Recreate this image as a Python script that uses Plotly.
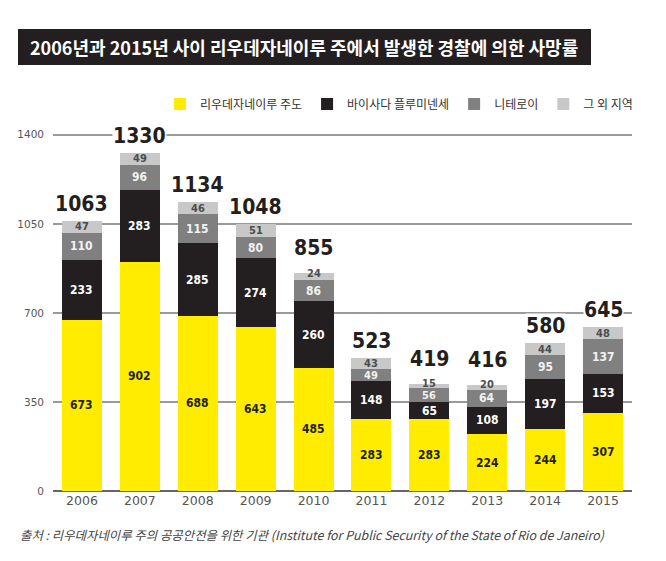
import plotly.graph_objects as go

years = ["2006", "2007", "2008", "2009", "2010", "2011", "2012", "2013", "2014", "2015"]
capital = [673, 902, 688, 643, 485, 283, 283, 224, 244, 307]
baixada = [233, 283, 285, 274, 260, 148, 65, 108, 197, 153]
niteroi = [110, 96, 115, 80, 86, 49, 56, 64, 95, 137]
others = [47, 49, 46, 51, 24, 43, 15, 20, 44, 48]
totals = [1063, 1330, 1134, 1048, 855, 523, 419, 416, 580, 645]

series_names = ["리우데자네이루 주도", "바이사다 플루미넨세", "니테로이", "그 외 지역"]
series_vals = [capital, baixada, niteroi, others]
colors = ["#FFEC00", "#231F20", "#808080", "#C8C8C8"]
label_colors = ["#231F20", "#FFFFFF", "#F2F2F2", "#4D4D4D"]
y_ticks = [0, 350, 700, 1050, 1400]

NUM_FONT = "DejaVu Sans Condensed, Liberation Sans Narrow, sans-serif"
KR_FONT = "Noto Sans CJK KR, sans-serif"

fig = go.Figure()
for name, vals, c in zip(series_names, series_vals, colors):
    fig.add_trace(go.Bar(x=years, y=vals, name=name, marker=dict(color=c, line=dict(width=0)),
                         hoverinfo="skip"))

annotations = []
# segment labels
for i, yr in enumerate(years):
    base = 0
    for k, (vals, lc) in enumerate(zip(series_vals, label_colors)):
        v = vals[i]
        shift = 3 if (k == 3 and v < 30) else 0
        size = 12 if v >= 60 else 11
        annotations.append(dict(x=i, y=base + v / 2, text=f"<b>{v}</b>", showarrow=False,
                                xref="x", yref="y", yshift=shift, borderpad=0,
                                font=dict(family=NUM_FONT, size=size, color=lc)))
        base += v
    tshift = 12 if others[i] < 30 else 4
    annotations.append(dict(x=i, y=totals[i], text=f"<b>{totals[i]}</b>", showarrow=False,
                            xref="x", yref="y", yanchor="bottom", yshift=tshift,
                            bgcolor="white", borderpad=0,
                            font=dict(family=NUM_FONT, size=21, color="#231F20")))

# plot geometry in px for paper conversions
L, R, T, B = 53, 34, 120, 70
W, H = 666, 561
pw, ph = W - L - R, H - T - B
def px2x(px):
    return (px - L) / pw
def py2y(py):
    return (H - B - py) / ph

annotations.append(dict(x=px2x(28), y=py2y(47), xref="paper", yref="paper", xanchor="left",
                        yanchor="middle", showarrow=False,
                        text="<b>2006년과 2015년 사이 리우데자네이루 주에서 발생한 경찰에 의한 사망률</b>",
                        font=dict(family=KR_FONT, size=18, color="white")))
annotations.append(dict(x=px2x(18), y=py2y(535), xref="paper", yref="paper", xanchor="left",
                        yanchor="middle", showarrow=False,
                        text="<i>출처 : 리우데자네이루 주의 공공안전을 위한 기관 (Institute for Public Security of the State of Rio de Janeiro)</i>",
                        font=dict(family=KR_FONT, size=12.4, color="#444444")))

shapes = [dict(type="rect", xref="paper", yref="paper", x0=px2x(18), x1=px2x(591),
               y0=py2y(65), y1=py2y(29), fillcolor="#231F20", line=dict(width=0), layer="below")]

fig.update_layout(
    width=W, height=H,
    margin=dict(l=L, r=R, t=T, b=B, pad=0),
    paper_bgcolor="white", plot_bgcolor="white",
    barmode="stack", bargap=0.31,
    showlegend=True,
    legend=dict(orientation="h", x=px2x(638), xanchor="right", y=py2y(104), yanchor="middle",
                font=dict(family=KR_FONT, size=12, color="#333333"),
                itemclick=False, itemsizing="constant", traceorder="normal",
                tracegroupgap=0, itemwidth=30, bgcolor="rgba(0,0,0,0)"),
    annotations=annotations,
    shapes=shapes,
    xaxis=dict(type="category", range=[-0.5, 9.5], showgrid=False, showline=False,
               ticks="", tickfont=dict(family="DejaVu Sans, sans-serif", size=12.5, color="#555555"),
               fixedrange=True),
    yaxis=dict(range=[0, 1400 * ph / 356.2], tickvals=y_ticks, ticktext=[str(t) for t in y_ticks],
               showgrid=True, gridcolor="#9A9A9A", gridwidth=1.5,
               zeroline=True, zerolinecolor="#666666", zerolinewidth=2,
               showline=False, ticks="", ticklabelstandoff=8,
               tickfont=dict(family="DejaVu Sans, sans-serif", size=10.5, color="#555555"),
               fixedrange=True),
)

fig.write_html("out.html", config={"displayModeBar": False},
               post_script="document.body.style.margin='0';")
